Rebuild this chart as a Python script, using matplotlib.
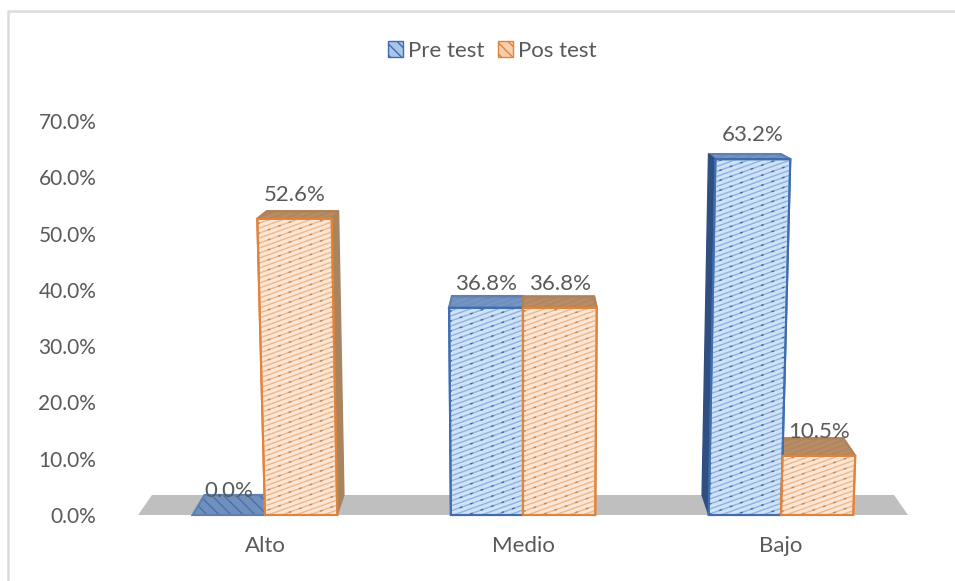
import numpy as np
import matplotlib
matplotlib.use("Agg")
import matplotlib.pyplot as plt
from matplotlib.patches import Polygon, Patch
from matplotlib.lines import Line2D
from matplotlib.collections import LineCollection

plt.rcParams['font.family'] = ['Lato', 'DejaVu Sans']

categorias = ['Alto', 'Medio', 'Bajo']
pre_test = [0.0, 36.8, 63.2]
pos_test = [52.6, 36.8, 10.5]
ticks_y = [0, 10, 20, 30, 40, 50, 60, 70]

gris = '#595959'
PX_X = 258.0    # pixeles por categoria
PX_Y = 5.63     # pixeles por punto porcentual
ANCHO = 0.28

fig = plt.figure(figsize=(9.55, 5.81), dpi=100)
# el marco solo se ve arriba y a la izquierda
fig.add_artist(Line2D([8 / 955, 8 / 955, 954 / 955], [0, 1 - 11 / 581, 1 - 11 / 581],
                      transform=fig.transFigure, color='#dcdcdc', linewidth=1.8))
ax = fig.add_axes([113 / 955, 66 / 581, 797 / 955, 70 * PX_Y / 581])
ax.set_xlim((113 - 523) / PX_X + 1, (910 - 523) / PX_X + 1)
ax.set_ylim(0, 70)
for s in ax.spines.values():
    s.set_visible(False)


# Perspectiva del grafico 3D: el frente se abre con la altura y el fondo va hacia el centro
def proyectar(x, v, d=0):
    px = 1 + (x - 1) * (1 + 0.00057 * v) * (1 - 0.036 * d)
    return px, v + d * (20 - 0.235 * v) / PX_Y


def rayado(poly, color, pendiente=0.36, paso=5.0, lw=1.0, ls='-', z=3):
    # lineas diagonales recortadas a la cara, como la trama de Excel
    xs = np.array(poly.get_xy())
    x0, x1 = xs[:, 0].min(), xs[:, 0].max()
    v0, v1 = xs[:, 1].min(), xs[:, 1].max()
    sube = pendiente * (x1 - x0) * PX_X
    segs = []
    for c in np.arange(v0 * PX_Y - abs(sube) - paso, v1 * PX_Y + abs(sube) + paso, paso):
        segs.append([(x0, c / PX_Y), (x1, (c + sube) / PX_Y)])
    lc = LineCollection(segs, colors=color, linewidths=lw, linestyles=ls, zorder=z)
    ax.add_collection(lc, autolim=False)
    lc.set_clip_path(poly)


def cara(puntos, relleno, borde, trama, pendiente=0.36, paso=5.0, oscuro=None, z=3):
    poly = Polygon(puntos, closed=True, facecolor=relleno, edgecolor=borde, linewidth=1.5,
                   zorder=z, clip_on=False)
    ax.add_patch(poly)
    rayado(poly, trama, pendiente, paso, z=z)
    if oscuro:
        rayado(poly, oscuro, pendiente, paso * 2, lw=1.0, ls=(0, (2, 6)), z=z)
    # se vuelve a trazar el borde sobre la trama
    ax.add_patch(Polygon(puntos, closed=True, fill=False, edgecolor=borde, linewidth=1.5,
                         zorder=z, clip_on=False))


def barra3d(x0, x1, v, c):
    izq, der = x0, x1
    pts_top = [proyectar(izq, v), proyectar(der, v), proyectar(der, v, 1), proyectar(izq, v, 1)]
    if v == 0:
        # la barra en cero solo deja ver el techo, con la trama marcada
        cara(pts_top, c['techo'], c['techo_borde'], c['cero_trama'], pendiente=-1.0, paso=12.0, z=3)
        return
    cara(pts_top, c['techo'], c['techo_borde'], c['techo_trama'], z=3)
    # la cara lateral que se ve es la que mira hacia el centro del grafico
    lado = der if der < 1 else izq
    if der <= 0.9 or izq >= 1.1:
        pts = [proyectar(lado, 0), proyectar(lado, v), proyectar(lado, v, 1), proyectar(lado, 0, 1)]
        ax.add_patch(Polygon(pts, closed=True, facecolor=c['lado'], edgecolor=c['lado'],
                             linewidth=1, zorder=3.2, clip_on=False))
    pts = [proyectar(izq, 0), proyectar(der, 0), proyectar(der, v), proyectar(izq, v)]
    cara(pts, c['frente'], c['borde'], c['trama'], oscuro=c['oscuro'], z=4)


azul = dict(frente='#cfe2f7', borde='#3f6db0', trama='#8fb2de', oscuro='#3f6aa5', lado='#2f4f80',
            techo='#6f8fbf', techo_borde='#5f80b3', techo_trama='#7b98c4', cero_trama='#4f6f9f')
naranja = dict(frente='#fde6d4', borde='#e2833a', trama='#eeb78c', oscuro='#b58a68', lado='#a8845f',
               techo='#b78c66', techo_borde='#b08258', techo_trama='#ad8560', cero_trama='#a67c55')

# piso gris
xf0, xf1 = -0.492, 2.492
ax.add_patch(Polygon([proyectar(xf0, 0), proyectar(xf1, 0), proyectar(xf1, 0, 1), proyectar(xf0, 0, 1)],
                     closed=True, facecolor='#bfbfbf', edgecolor='none', zorder=1, clip_on=False))

x = np.arange(len(categorias))
for i in [0, 2, 1]:
    barra3d(x[i] - ANCHO, x[i], pre_test[i], azul)
    barra3d(x[i], x[i] + ANCHO, pos_test[i], naranja)

# etiquetas de datos
for i in range(len(categorias)):
    for xc, v in ((x[i] - ANCHO / 2, pre_test[i]), (x[i] + ANCHO / 2, pos_test[i])):
        ax.annotate(f'{v:.1f}%', proyectar(xc, v), xytext=(0, 17.5), textcoords='offset points',
                    ha='center', va='center', fontsize=16, color=gris, zorder=6, annotation_clip=False)

ax.set_xticks(x)
ax.set_xticklabels(categorias)
ax.set_yticks(ticks_y)
ax.set_yticklabels([f'{t:.1f}%' for t in ticks_y])
ax.tick_params(axis='y', length=0, labelsize=15, labelcolor=gris, pad=12)
ax.tick_params(axis='x', length=0, labelsize=16, labelcolor=gris, pad=15)

handles = [Patch(facecolor='#a9c6ea', edgecolor='#3f6db0', hatch='\\\\\\', label='Pre test'),
           Patch(facecolor='#f8cfae', edgecolor='#e2833a', hatch='\\\\\\', label='Pos test')]
fig.legend(handles=handles, loc='center', bbox_to_anchor=(492 / 955, 1 - 51 / 581), ncols=2,
           frameon=False, fontsize=16, labelcolor=gris, handlelength=0.7, handleheight=0.7,
           handletextpad=0.2, columnspacing=0.6)

fig.savefig('out.png', dpi=100)
